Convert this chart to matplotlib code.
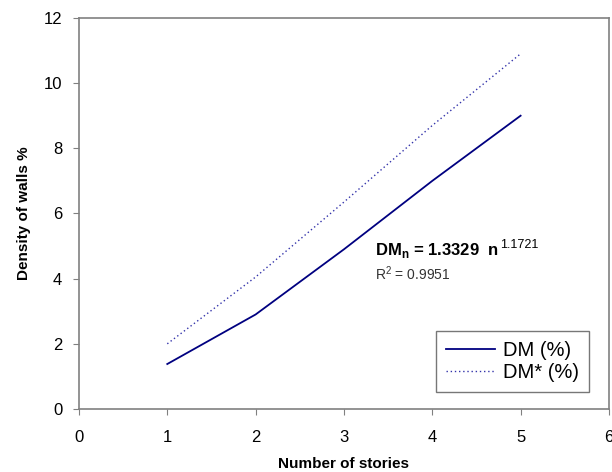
import matplotlib.pyplot as plt

plt.rcParams['font.family'] = ['Liberation Sans', 'DejaVu Sans']

# --- podatki ---
stories = [1, 2, 3, 4, 5]
dm = [1.38, 2.9, 4.9, 7.0, 9.0]
dm_star = [2.0, 4.05, 6.35, 8.7, 10.9]

fig = plt.figure(figsize=(6.12, 4.72), dpi=100)
ax = fig.add_axes([0.129, 0.1335, 0.866, 0.8285])

ax.plot(stories, dm, color='#000080', lw=1.3, label='DM (%)')
ax.plot(stories, dm_star, color='#3333aa', lw=1.0, ls=(0, (1, 2)), label='DM* (%)')

ax.set_xlim(0, 6)
ax.set_ylim(0, 12)
ax.set_xticks(range(0, 7))
ax.set_yticks(range(0, 13, 2))
ax.tick_params(labelsize=12, direction='out', length=4, color='#808080')
ax.tick_params(axis='x', pad=11)
ax.tick_params(axis='y', pad=8)
for s in ax.spines.values():
    s.set_color('#808080')
    s.set_linewidth(1.2)

ax.set_xlabel('Number of stories', fontsize=11, fontweight='bold', labelpad=9)
ax.set_ylabel('Density of walls %', fontsize=11, fontweight='bold', labelpad=9)

# --- enačba ---
ax.text(3.35, 4.72, r'DM$_\mathregular{n}$ = 1.3329  n', fontsize=12,
        fontweight='bold', va='baseline')
ax.text(4.77, 4.95, '1.1721', fontsize=9, va='baseline')
ax.text(3.35, 3.96, r'R$^\mathregular{2}$ = 0.9951', fontsize=10,
        color='#333333', va='baseline')

leg = ax.legend(loc='lower right', bbox_to_anchor=(0.962, 0.043), fontsize=14.5,
                frameon=True, fancybox=False, handlelength=2.4, borderpad=0.5,
                labelspacing=0.15, handletextpad=0.4, borderaxespad=0)
leg.get_frame().set_edgecolor('#555555')
leg.get_frame().set_linewidth(1.0)

fig.savefig('out.png', dpi=100)
